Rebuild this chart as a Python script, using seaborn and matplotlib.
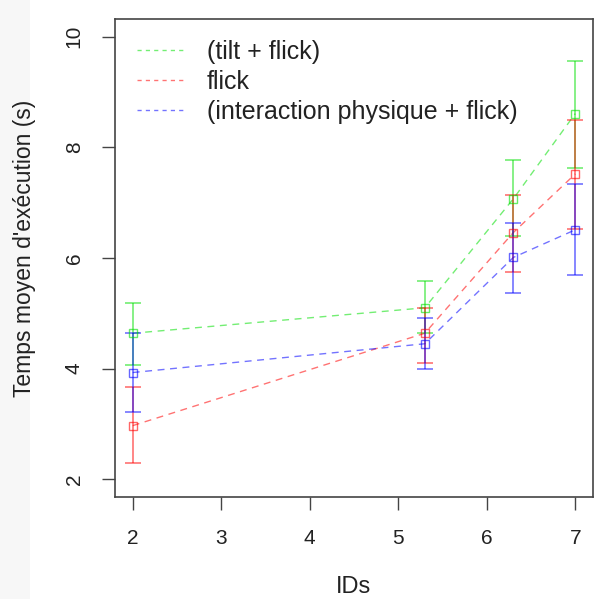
import numpy as np
import pandas as pd
import matplotlib
matplotlib.use("Agg")
import matplotlib.pyplot as plt
import seaborn as sns
from matplotlib.lines import Line2D
from matplotlib.patches import Rectangle

# ---- data ----
ids = [2, 5.3, 6.3, 7]
series = ["(tilt + flick)", "flick", "(interaction physique + flick)"]
colors = ["#00e000", "#ff0000", "#0000ff"]

tilt_mean = [4.64, 5.10, 7.07, 8.61]
tilt_low = [4.06, 4.64, 6.39, 7.63]
tilt_high = [5.19, 5.59, 7.78, 9.56]

flick_mean = [2.97, 4.64, 6.46, 7.52]
flick_low = [2.29, 4.11, 5.75, 6.53]
flick_high = [3.66, 5.10, 7.14, 8.50]

phys_mean = [3.93, 4.45, 6.01, 6.51]
phys_low = [3.21, 4.00, 5.36, 5.70]
phys_high = [4.65, 4.92, 6.64, 7.34]

x_ticks = [2, 3, 4, 5, 6, 7]
y_ticks = [2, 4, 6, 8, 10]

means = [tilt_mean, flick_mean, phys_mean]
lows = [tilt_low, flick_low, phys_low]
highs = [tilt_high, flick_high, phys_high]

rows = []
for s, m in zip(series, means):
    for x, v in zip(ids, m):
        rows.append({"ID": x, "temps": v, "serie": s})
df = pd.DataFrame(rows)

sns.set_style("white")
plt.rcParams["font.family"] = ["Liberation Sans", "DejaVu Sans"]

W, H = 595, 599
fig = plt.figure(figsize=(W / 100, H / 100), dpi=100)
fig.patches.append(Rectangle((0, 0), 30 / W, 1, transform=fig.transFigure,
                             facecolor="#f7f7f7", edgecolor="none", zorder=-10))
ax = fig.add_axes([115 / W, (H - 497) / H, (593 - 115) / W, (497 - 19) / H])

palette = dict(zip(series, colors))
sns.lineplot(data=df, x="ID", y="temps", hue="serie", palette=palette, ax=ax,
             legend=False, linewidth=1.0, alpha=0.55, sort=False)
for ln in ax.get_lines():
    ln.set_dashes((5, 4))

for s, c, m, lo, hi in zip(series, colors, means, lows, highs):
    m = np.array(m); lo = np.array(lo); hi = np.array(hi)
    ax.errorbar(ids, m, yerr=[m - lo, hi - m], fmt="none", ecolor=c, alpha=0.6,
                elinewidth=1.1, capsize=5.8, capthick=1.1, zorder=3)
    ax.plot(ids, m, linestyle="none", marker="s", markersize=6.2, markerfacecolor="none",
            markeredgecolor=c, markeredgewidth=1.0, alpha=0.6, zorder=4)

ax.set_xlim(1.8, 7.2)
ax.set_ylim(1.68, 10.32)
ax.set_xticks(x_ticks)
ax.set_yticks(y_ticks)
ax.set_yticklabels([str(t) for t in y_ticks], rotation=90, va="center")
ax.tick_params(axis="both", direction="out", length=9.5, width=1, color="#444444",
               labelsize=15, labelcolor="#222222", left=True, bottom=True)
ax.tick_params(axis="x", pad=13.5)
ax.tick_params(axis="y", pad=13)
for sp in ax.spines.values():
    sp.set_visible(True)
    sp.set_color("#444444")
    sp.set_linewidth(1.2)

ax.set_xlabel("IDs", fontsize=17, color="#222222")
ax.xaxis.label.set_va("center")
ax.xaxis.set_label_coords(0.5, -(587 - 497) / (497 - 19))
ax.set_ylabel("Temps moyen d'exécution (s)", fontsize=16.5, color="#222222")
ax.yaxis.label.set_va("center")
ax.yaxis.set_label_coords(-(115 - 25) / (593 - 115), 0.52)

handles = [Line2D([0], [0], color=c, lw=1, alpha=0.55, dashes=(3, 3)) for c in colors]
leg = ax.legend(handles, series, loc="upper left", frameon=False, fontsize=18,
                bbox_to_anchor=(22 / 478, 1 - 21 / 478), handlelength=1.84,
                handletextpad=0.96, labelspacing=0.24, borderaxespad=0, borderpad=0)
for t in leg.get_texts():
    t.set_color("#222222")

fig.savefig("out.png", dpi=100)
